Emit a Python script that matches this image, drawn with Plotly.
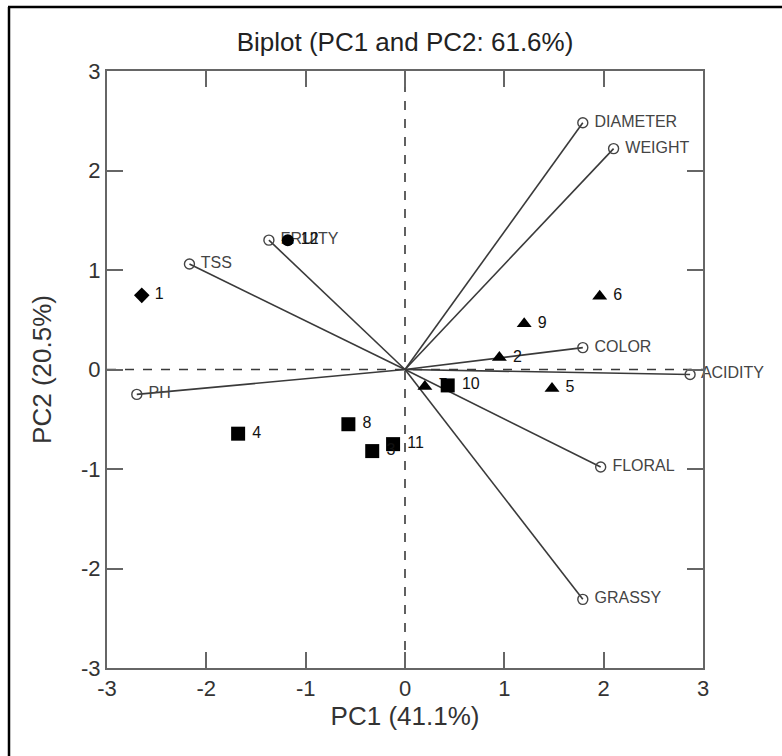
import plotly.graph_objects as go

# ---- data ----
var_names = ["DIAMETER", "WEIGHT", "FRUITY", "TSS", "PH", "COLOR", "ACIDITY", "FLORAL", "GRASSY"]
var_pc1 = [1.79, 2.10, -1.37, -2.17, -2.70, 1.79, 2.87, 1.97, 1.79]
var_pc2 = [2.48, 2.22, 1.30, 1.06, -0.25, 0.22, -0.05, -0.98, -2.31]

grp_diamond_lab = ["1"]
grp_diamond_pc1 = [-2.65]
grp_diamond_pc2 = [0.745]

grp_circle_lab = ["12"]
grp_circle_pc1 = [-1.18]
grp_circle_pc2 = [1.30]

grp_square_lab = ["4", "8", "3", "11", "10"]
grp_square_pc1 = [-1.68, -0.57, -0.33, -0.12, 0.43]
grp_square_pc2 = [-0.645, -0.55, -0.82, -0.75, -0.16]

grp_tri_lab = ["7", "2", "9", "6", "5"]
grp_tri_pc1 = [0.20, 0.95, 1.20, 1.96, 1.48]
grp_tri_pc2 = [-0.17, 0.12, 0.46, 0.735, -0.19]

title_text = "Biplot (PC1 and PC2: 61.6%)"
x_title = "PC1 (41.1%)"
y_title = "PC2 (20.5%)"
tick_vals = [-3, -2, -1, 0, 1, 2, 3]

FONT = "Liberation Sans, Arial, sans-serif"
LINE = "#3a3a3a"

fig = go.Figure()

# loading vectors
for name, x, y in zip(var_names, var_pc1, var_pc2):
    fig.add_trace(go.Scatter(x=[0, x], y=[0, y], mode="lines",
                             line=dict(color=LINE, width=1.6),
                             hoverinfo="skip", showlegend=False))

fig.add_trace(go.Scatter(
    x=var_pc1, y=var_pc2, mode="markers+text", text=[" " + n for n in var_names],
    textposition="middle right",
    textfont=dict(family=FONT, size=16, color="#444"),
    marker=dict(symbol="circle-open", size=10, color="#444", line=dict(width=1.4)),
    cliponaxis=False, showlegend=False))

def samples(xs, ys, labs, sym, size):
    fig.add_trace(go.Scatter(
        x=xs, y=ys, mode="markers+text", text=[" " + l for l in labs],
        textposition="middle right",
        textfont=dict(family=FONT, size=16, color="#111"),
        marker=dict(symbol=sym, size=size, color="#000"),
        cliponaxis=False, showlegend=False))

samples(grp_diamond_pc1, grp_diamond_pc2, grp_diamond_lab, "diamond", 12)
samples(grp_circle_pc1, grp_circle_pc2, grp_circle_lab, "circle", 12)
samples(grp_tri_pc1, grp_tri_pc2, grp_tri_lab, "triangle-up", 13)
samples(grp_square_pc1, grp_square_pc2, grp_square_lab, "square", 14)

L, R, T, B = 107, 79, 71, 88
W, H = 782, 756
pw, ph = W - L - R, H - T - B

def px2paper_x(px):
    return (px - L) / pw

def py2paper_y(py):
    return (H - B - py) / ph

shapes = [
    dict(type="line", xref="x", yref="paper", x0=0, x1=0, y0=0, y1=1,
         line=dict(color=LINE, width=1.6, dash="dash"), layer="below"),
    dict(type="line", xref="paper", yref="y", x0=0, x1=1, y0=0, y1=0,
         line=dict(color=LINE, width=1.6, dash="dash"), layer="below"),
    # outer image border (left and top)
    dict(type="line", xref="paper", yref="paper",
         x0=px2paper_x(9), x1=px2paper_x(9), y0=py2paper_y(7), y1=py2paper_y(760),
         line=dict(color="#000", width=2.5)),
    dict(type="line", xref="paper", yref="paper",
         x0=px2paper_x(8), x1=px2paper_x(790), y0=py2paper_y(7), y1=py2paper_y(7),
         line=dict(color="#000", width=2.5)),
]

axis_common = dict(
    range=[-3, 3], tickvals=tick_vals, ticktext=[str(v) for v in tick_vals],
    showgrid=False, zeroline=False, showline=True, linecolor="#666", linewidth=2,
    mirror="ticks", ticks="inside", ticklen=16, tickwidth=1.5, tickcolor="#666",
    tickfont=dict(family=FONT, size=22, color="#333"),
)

fig.update_layout(
    width=W, height=H,
    margin=dict(l=L, r=R, t=T, b=B),
    paper_bgcolor="white", plot_bgcolor="white",
    title=dict(text=title_text, x=(L + pw / 2) / W, xanchor="center",
               y=1 - 42 / H, yanchor="middle", yref="container",
               font=dict(family=FONT, size=26, color="#222")),
    xaxis=dict(**axis_common,
               title=dict(text=x_title, font=dict(family=FONT, size=26, color="#333"), standoff=5)),
    yaxis=dict(**axis_common,
               title=dict(text=y_title, font=dict(family=FONT, size=26, color="#333"), standoff=22)),
    shapes=shapes,
)

fig.write_html("out.html")
